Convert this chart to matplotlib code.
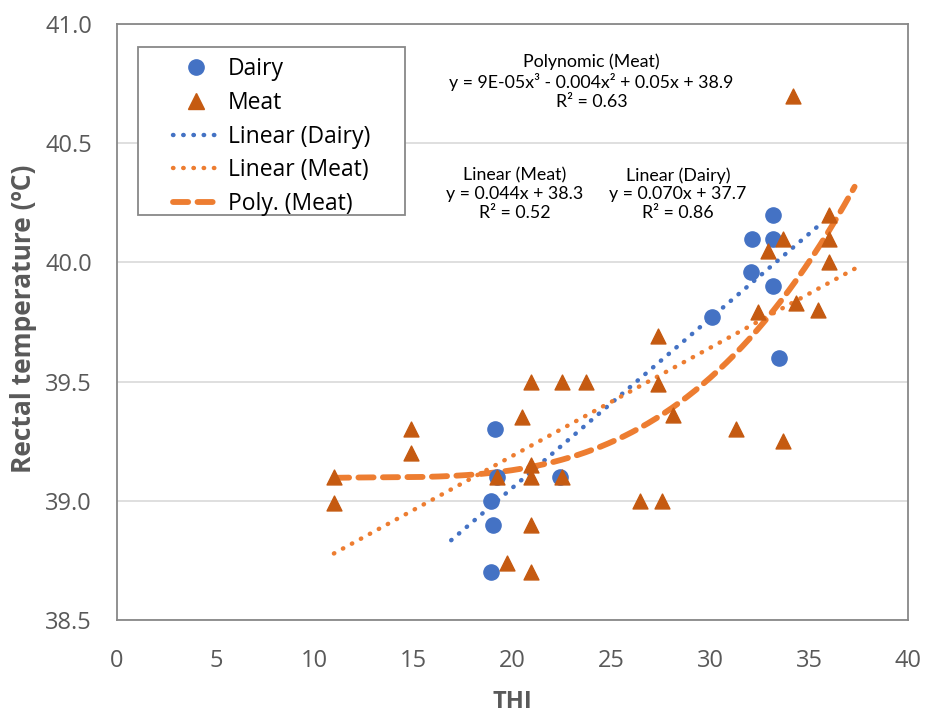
import numpy as np
import matplotlib
matplotlib.use("Agg")
import matplotlib.pyplot as plt
from matplotlib.lines import Line2D
from matplotlib.patches import Rectangle

plt.rcParams['font.family'] = ['Open Sans', 'DejaVu Sans']

# Data

dairy_thi = [18.9, 19.0, 18.9, 19.2, 19.1, 22.4, 30.1, 32.05, 32.1, 33.15, 33.15, 33.15, 33.5]
dairy_temp = [38.7, 38.9, 39.0, 39.1, 39.3, 39.1, 39.77, 39.96, 40.1, 40.2, 40.1, 39.9, 39.6]

meat_thi = [10.97, 10.97, 14.87, 14.87, 19.22, 19.72, 20.94, 20.94, 20.94, 20.94,
            20.48, 20.94, 22.5, 23.72, 22.5, 26.45, 27.56, 27.36, 27.36, 28.12,
            31.3, 32.91, 33.68, 36.0, 36.0, 36.0, 34.34, 32.41, 35.45, 33.68, 34.17]
meat_temp = [39.1, 38.99, 39.3, 39.2, 39.1, 38.74, 38.7, 38.9, 39.1, 39.15,
             39.35, 39.5, 39.5, 39.5, 39.1, 39.0, 39.0, 39.69, 39.49, 39.36,
             39.3, 40.05, 40.1, 40.2, 40.1, 40.0, 39.83, 39.79, 39.8, 39.25, 40.7]

x_ticks = [0, 5, 10, 15, 20, 25, 30, 35, 40]
y_ticks = [38.5, 39.0, 39.5, 40.0, 40.5, 41.0]

blue = '#4472C4'
dark_orange = '#C55A11'
orange = '#ED7D31'
gray_text = '#595959'
dot_style = (0, (0.1, 2.2))
dash_style = (0, (2.6, 1.6))

# Trend lines fitted to the data

dairy_lin = np.polyfit(dairy_thi, dairy_temp, 1)
meat_lin = np.polyfit(meat_thi, meat_temp, 1)
meat_poly = np.polyfit(meat_thi, meat_temp, 3)

xd = np.linspace(min(dairy_thi) - 2, max(dairy_thi) + 2, 100)
xm = np.linspace(min(meat_thi), max(meat_thi) + 1.3, 200)

fig = plt.figure(figsize=(9.27, 7.13), dpi=100)
ax = fig.add_axes([0.1262, 0.1304, 0.8533, 0.8359])

ax.plot(xd, np.polyval(dairy_lin, xd), color=blue, linestyle=dot_style,
        linewidth=3.2, dash_capstyle='round', zorder=2)
ax.plot(xm, np.polyval(meat_lin, xm), color=orange, linestyle=dot_style,
        linewidth=3.2, dash_capstyle='round', zorder=2)
ax.plot(xm, np.polyval(meat_poly, xm), color=orange, linestyle=dash_style,
        linewidth=4.2, dash_capstyle='round', zorder=2)

ax.scatter(dairy_thi, dairy_temp, s=120, color=blue, marker='o', zorder=3)
ax.scatter(meat_thi, meat_temp, s=115, color=dark_orange, marker='^', zorder=4,
           edgecolors=dark_orange, linewidths=1, joinstyle='round')

ax.set_xlim(0, 40)
ax.set_ylim(38.5, 41.0)
ax.set_xticks(x_ticks)
ax.set_yticks(y_ticks)
ax.set_xticklabels([str(t) for t in x_ticks])
ax.set_yticklabels(['%.1f' % t for t in y_ticks])
ax.tick_params(length=0, labelsize=17, labelcolor=gray_text)
ax.tick_params(axis='x', pad=21)
ax.tick_params(axis='y', pad=18)
ax.grid(axis='y', color='#D9D9D9', linewidth=1.2)
ax.set_axisbelow(True)
for s in ax.spines.values():
    s.set_color('#888888')
    s.set_linewidth(1.3)

ax.set_xlabel('THI', fontsize=17, fontweight='bold', color=gray_text, va='center')
ax.xaxis.set_label_coords(0.5, -0.1376)
ax.set_ylabel('Rectal temperature (ºC)', fontsize=19, fontweight='bold',
              color=gray_text, va='center', ha='center')
ax.yaxis.set_label_coords(-0.1188, 0.505)

# Trendline labels

ax.text(24.0, 40.878, 'Polynomic (Meat)\ny = 9E-05x³ - 0.004x² + 0.05x + 38.9\nR² = 0.63',
        ha='center', va='top', fontsize=12.8, linespacing=1.22, family=['Lato', 'DejaVu Sans'])
ax.text(20.1, 40.40, 'Linear (Meat)\ny = 0.044x + 38.3\nR² = 0.52',
        ha='center', va='top', fontsize=12.8, linespacing=1.22, family=['Lato', 'DejaVu Sans'])
ax.text(28.37, 40.40, 'Linear (Dairy)\ny = 0.070x + 37.7\nR² = 0.86',
        ha='center', va='top', fontsize=12.8, linespacing=1.22, family=['Lato', 'DejaVu Sans'])

# Legend with its own frame

ax.add_patch(Rectangle((0.0265, 0.6795), 0.3375, 0.2815, transform=ax.transAxes,
                       facecolor='white', edgecolor='#888888', linewidth=1.3, zorder=5))

handles = [
    Line2D([], [], color=blue, marker='o', linestyle='none', markersize=11),
    Line2D([], [], color=dark_orange, marker='^', linestyle='none', markersize=11),
    Line2D([], [], color=blue, linestyle=dot_style, linewidth=3.2, dash_capstyle='round'),
    Line2D([], [], color=orange, linestyle=dot_style, linewidth=3.2, dash_capstyle='round'),
    Line2D([], [], color=orange, linestyle=dash_style, linewidth=4.2, dash_capstyle='round'),
]
labels = ['Dairy', 'Meat', 'Linear (Dairy)', 'Linear (Meat)', 'Poly. (Meat)']
leg = ax.legend(handles, labels, loc='center left', bbox_to_anchor=(0.0708, 0.811),
                fontsize=16.5, frameon=False, handlelength=2.05, handletextpad=0.35,
                labelspacing=0.42, borderpad=0, borderaxespad=0)
leg.set_zorder(6)

plt.savefig('out.png', dpi=100)
